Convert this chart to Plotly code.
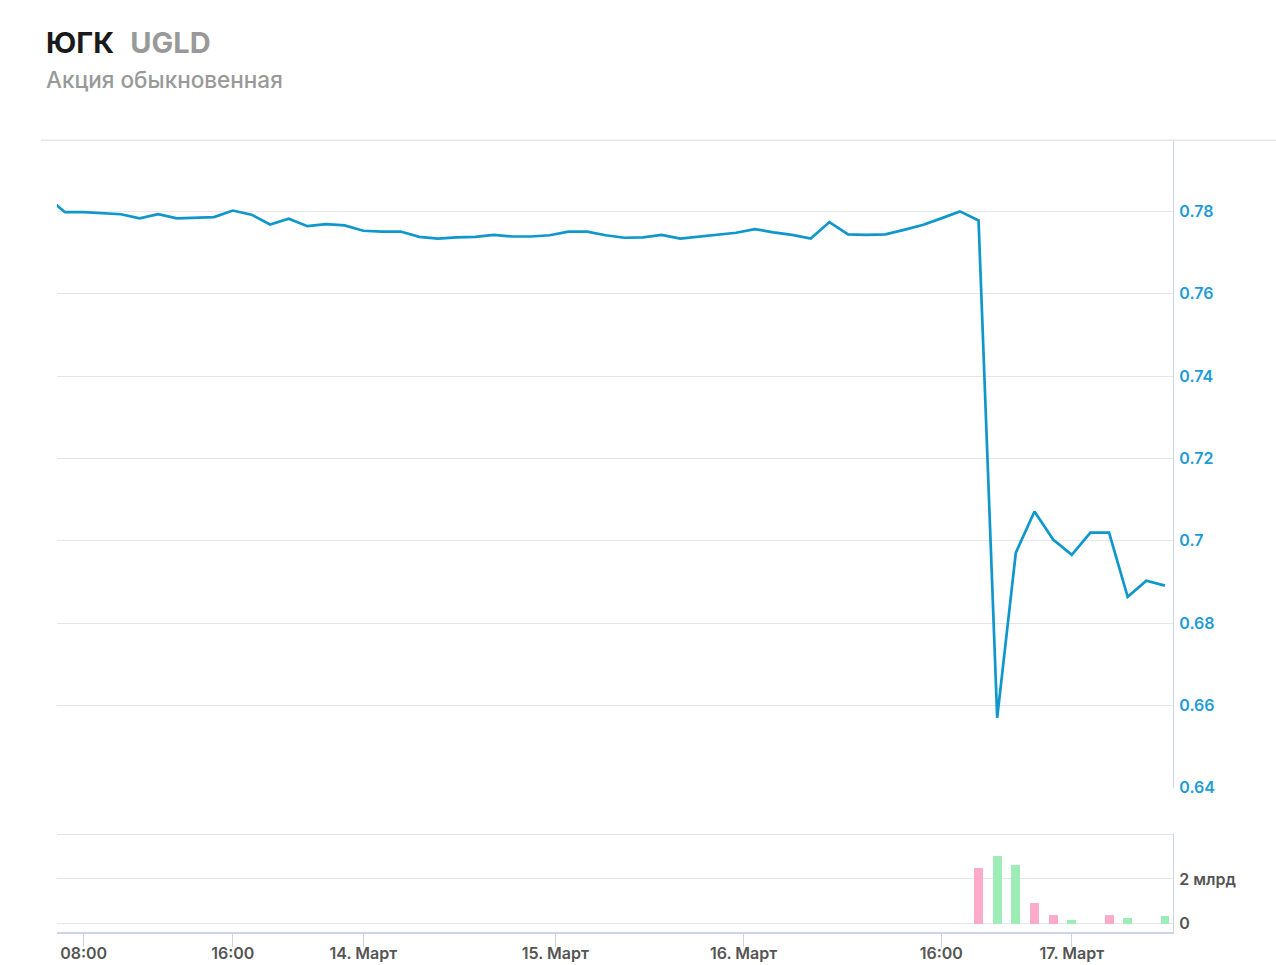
import plotly.graph_objects as go

# ---- data (ordinal axis: one point per hour, gaps removed) ----
price = [0.7836, 0.7798, 0.7798, 0.7796, 0.7793, 0.7783, 0.7793, 0.7783, 0.7784, 0.7786,
         0.7802, 0.7792, 0.7768, 0.7782, 0.7764, 0.7769, 0.7766, 0.7753, 0.7751, 0.7751,
         0.7738, 0.7734, 0.7737, 0.7738, 0.7743, 0.7739, 0.7739, 0.7742, 0.7751, 0.7751,
         0.7742, 0.7736, 0.7737, 0.7743, 0.7734, 0.7739, 0.7744, 0.7748, 0.7757, 0.7749,
         0.7743, 0.7734, 0.7774, 0.7744, 0.7743, 0.7744, 0.7755, 0.7767, 0.7783, 0.7800,
         0.7778, 0.6570, 0.6971, 0.7071, 0.7003, 0.6966, 0.7020, 0.7020, 0.6864, 0.6903,
         0.6891]
point_index = list(range(-1, len(price) - 1))

vol_index = [49, 50, 51, 52, 53, 54, 56, 57, 59]
vol_values = [2.49e9, 3.05e9, 2.65e9, 0.94e9, 0.38e9, 0.18e9, 0.38e9, 0.24e9, 0.32e9]
vol_dir = ["down", "up", "up", "down", "down", "up", "down", "up", "up"]

x_tick_pos = [1, 9, 16, 26.3, 36.4, 47, 54]
x_tick_text = ["08:00", "16:00", "14. Март", "15. Март", "16. Март", "16:00", "17. Март"]

price_ticks = [0.64, 0.66, 0.68, 0.70, 0.72, 0.74, 0.76, 0.78]
price_tick_text = ["0.64", "0.66", "0.68", "0.7", "0.72", "0.74", "0.76", "0.78"]

vol_ticks = [0, 2e9, 4e9]
vol_tick_text = ["0", "2 млрд", ""]

# ---- styles ----
LINE = "#0f97cc"
BLUE_LBL = "#1e9bd7"
GREY_LBL = "#555555"
AXIS = "#ccd6eb"
GRID = "#e6e6e6"
dir_color = {"up": "#9eedb7", "down": "#ffaac8"}
FONT = "Inter"

W, H = 1276, 976          # figure size (viewport is a bit taller than the photo)
REF_W, REF_H = 1276, 965  # reference picture size used for positioning
def px_x(p):
    return p / REF_W
def px_y(p):
    return 1 - p / REF_H

fig = go.Figure()
fig.add_trace(go.Scatter(x=point_index, y=price, mode="lines",
                         line=dict(color=LINE, width=2.7),
                         xaxis="x", yaxis="y", hoverinfo="skip", showlegend=False))
fig.add_trace(go.Bar(x=vol_index, y=vol_values,
                     marker=dict(color=[dir_color[d] for d in vol_dir], line=dict(width=0)),
                     width=0.48, xaxis="x2", yaxis="y2", hoverinfo="skip", showlegend=False))

xr = [-0.43, 59.43]
tickfont = dict(family=FONT, size=16, color=GREY_LBL, weight=600)

fig.update_layout(
    width=W, height=H, autosize=False,
    margin=dict(l=0, r=0, t=0, b=0),
    paper_bgcolor="white", plot_bgcolor="white",
    font=dict(family=FONT),
    xaxis=dict(domain=[px_x(57), px_x(1173)], range=xr, anchor="y",
               showticklabels=False, showgrid=False, zeroline=False, showline=False,
               ticks=""),
    yaxis=dict(domain=[px_y(787), px_y(140)], range=[0.64, 0.7973], side="right",
               anchor="x", tickvals=price_ticks, ticktext=price_tick_text,
               tickfont=dict(family=FONT, size=16, color=BLUE_LBL, weight=600),
               showgrid=True, gridcolor=GRID, gridwidth=1.3, zeroline=False,
               showline=True, linecolor=AXIS, linewidth=1.3, ticks="", ticklabelstandoff=2),
    xaxis2=dict(domain=[px_x(57), px_x(1173)], range=xr, anchor="y2",
                tickvals=x_tick_pos, ticktext=x_tick_text, tickfont=tickfont,
                showgrid=False, zeroline=False, showline=True, linecolor=AXIS, linewidth=2,
                ticks="outside", ticklen=13, tickcolor=AXIS, tickwidth=1.3,
                ticklabelstandoff=-7),
    yaxis2=dict(domain=[px_y(931), px_y(832)], range=[-0.382e9, 4.07e9], side="right",
                anchor="x2", tickvals=vol_ticks, ticktext=vol_tick_text, tickfont=tickfont,
                showgrid=True, gridcolor=GRID, gridwidth=1.3, zeroline=False,
                showline=True, linecolor=AXIS, linewidth=1.3, ticks="", ticklabelstandoff=2),
    bargap=0,
)

# top border line
fig.add_shape(type="line", xref="paper", yref="paper",
              x0=px_x(41), x1=1, y0=px_y(140), y1=px_y(140),
              line=dict(color=GRID, width=1.5))

# titles
fig.add_annotation(xref="paper", yref="paper", x=px_x(44), y=px_y(42),
                   xanchor="left", yanchor="middle", showarrow=False,
                   text="<b>ЮГК</b>  <b><span style='color:#999999'>UGLD</span></b>",
                   font=dict(family=FONT, size=29, color="#1a1a1a"))
fig.add_annotation(xref="paper", yref="paper", x=px_x(44), y=px_y(79),
                   xanchor="left", yanchor="middle", showarrow=False,
                   text="Акция обыкновенная",
                   font=dict(family=FONT, size=22.5, color="#999999", weight=500))

post = (
    "document.documentElement.style.margin='0';"
    "document.documentElement.style.overflow='hidden';"
    "document.body.style.margin='0';"
    "document.body.style.overflow='hidden';"
    "var gd=document.getElementById('{plot_id}');"
    "gd.style.position='fixed';gd.style.left='0px';gd.style.top='0px';"
)
fig.write_html("out.html", config={"displayModeBar": False, "responsive": False},
               post_script=post)
